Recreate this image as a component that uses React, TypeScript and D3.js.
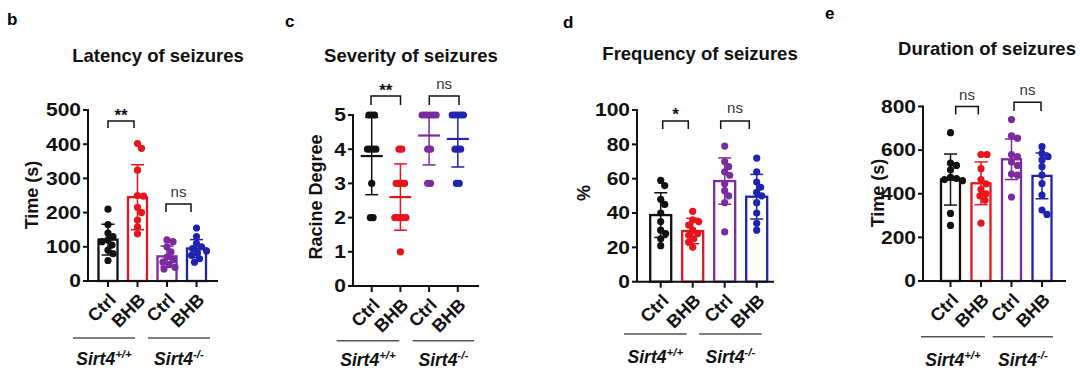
import React from "react";
import * as d3 from "d3";

// ---------- shared categories ----------
const conditions = ["Ctrl", "BHB", "Ctrl", "BHB"];
const groupKeys = ["WT-Ctrl", "WT-BHB", "KO-Ctrl", "KO-BHB"];
const genotypeBase = ["Sirt4", "Sirt4"];
const genotypeSup = ["+/+", "-/-"];
const groupColors = ["#111111", "#e8141c", "#7b2ba0", "#1f24b0"];

// ---------- panel titles / labels ----------
const panelLetters = ["b", "c", "d", "e"];
const panelTitles = ["Latency of seizures", "Severity of seizures", "Frequency of seizures", "Duration of seizures"];
const yLabels = ["Time (s)", "Racine Degree", "%", "Time (s)"];

// ---------- b: latency ----------
const latencyPoints = [
  [210, 165, 140, 130, 120, 115, 105, 90, 80, 60],
  [402, 388, 324, 250, 248, 215, 200, 178, 158, 138],
  [120, 115, 100, 85, 70, 62, 55, 48, 40, 35],
  [155, 130, 110, 100, 95, 88, 82, 75, 65, 55],
];
const latencyMean = [121, 245, 72, 95];
const latencySD = [45, 95, 30, 26];
const latencyTicks = [0, 100, 200, 300, 400, 500];
const latencySig = ["**", "ns"];

// ---------- c: severity ----------
const severityPoints = [
  [5, 5, 5, 4, 4, 4, 4, 3, 2, 2],
  [4, 4, 3, 3, 3, 3, 2, 2, 2, 2, 2, 1],
  [5, 5, 5, 5, 5, 5, 4, 4, 3, 3],
  [5, 5, 5, 5, 5, 4, 4, 4, 3, 3],
];
const severityMean = [3.8, 2.6, 4.4, 4.3];
const severitySD = [1.13, 0.97, 0.86, 0.82];
const severityTicks = [0, 1, 2, 3, 4, 5];
const severitySig = ["**", "ns"];

// ---------- d: frequency ----------
const frequencyPoints = [
  [59, 56, 48, 45, 40, 35, 30, 28, 25, 21],
  [41, 36, 35, 33, 30, 28, 27, 25, 23, 20],
  [79, 70, 67, 64, 62, 57, 53, 50, 46, 29],
  [72, 64, 58, 55, 52, 50, 46, 40, 34, 30],
];
const frequencyMean = [38.8, 29.5, 58.6, 49.5];
const frequencySD = [13, 7.4, 13.5, 13];
const frequencyTicks = [0, 20, 40, 60, 80, 100];
const frequencySig = ["*", "ns"];

// ---------- e: duration ----------
const durationPoints = [
  [680, 540, 530, 510, 475, 470, 465, 460, 310, 255],
  [580, 580, 515, 465, 445, 420, 400, 390, 370, 265],
  [740, 665, 655, 580, 570, 545, 530, 490, 485, 385],
  [616, 585, 570, 555, 524, 486, 447, 394, 325, 305],
];
const durationMean = [465, 448, 558, 482];
const durationSD = [117, 98, 93, 105];
const durationTicks = [0, 200, 400, 600, 800];
const durationSig = ["ns", "ns"];

// ---------- layout (positions only) ----------
type SigPos = { x1: number; x2: number; top: number; leg: number; textY: number };
type Layout = {
  letterX: number; letterY: number;
  titleX: number; titleY: number;
  yLabelX: number; yLabelY: number;
  axisX: number; axisEnd: number; y0: number; yTop: number;
  c0: number; step: number; barW: number;
  groupLines: [number, number][]; groupLineY: number; groupLabelY: number;
  sig: SigPos[];
};

const layouts: Layout[] = [
  {
    letterX: 7, letterY: 25, titleX: 158, titleY: 62, yLabelX: 38, yLabelY: 195,
    axisX: 88, axisEnd: 217, y0: 281, yTop: 110, c0: 108, step: 29.5, barW: 19,
    groupLines: [[73, 135], [148, 210]], groupLineY: 338, groupLabelY: 365,
    sig: [
      { x1: 108, x2: 134, top: 121, leg: 128, textY: 121 },
      { x1: 166, x2: 191, top: 204, leg: 212, textY: 197 },
    ],
  },
  {
    letterX: 285, letterY: 27, titleX: 411, titleY: 62, yLabelX: 322, yLabelY: 197,
    axisX: 353, axisEnd: 478, y0: 286, yTop: 115, c0: 371.7, step: 28.7, barW: 0,
    groupLines: [[336.7, 399.3], [412.7, 474]], groupLineY: 340.7, groupLabelY: 366,
    sig: [
      { x1: 371, x2: 400.5, top: 96, leg: 105, textY: 96 },
      { x1: 429.3, x2: 459, top: 96, leg: 105, textY: 89 },
    ],
  },
  {
    letterX: 563, letterY: 28, titleX: 700, titleY: 60, yLabelX: 589.5, yLabelY: 193,
    axisX: 637, axisEnd: 773, y0: 281.7, yTop: 110, c0: 660.7, step: 32, barW: 21,
    groupLines: [[624, 686.7], [699, 761.7]], groupLineY: 334, groupLabelY: 363,
    sig: [
      { x1: 662.7, x2: 688.3, top: 121, leg: 129, textY: 120 },
      { x1: 720.7, x2: 749.3, top: 121, leg: 129, textY: 113 },
    ],
  },
  {
    letterX: 825, letterY: 19, titleX: 987, titleY: 55, yLabelX: 884, yLabelY: 193,
    axisX: 923, axisEnd: 1065, y0: 281, yTop: 106.5, c0: 950.5, step: 30.5, barW: 19,
    groupLines: [[921, 985], [992.7, 1053]], groupLineY: 336.7, groupLabelY: 366,
    sig: [
      { x1: 955.7, x2: 978.3, top: 106.5, leg: 114.5, textY: 100 },
      { x1: 1014, x2: 1041, top: 102.3, leg: 111, textY: 95 },
    ],
  },
];

const FONT = "'Liberation Sans', Arial, Helvetica, sans-serif";

// beeswarm offsets for continuous values
function swarmOffsets(values: number[], yScale: (v: number) => number, minD: number, step: number): number[] {
  const order = values.map((v, i) => i).sort((a, b) => values[b] - values[a]);
  const placed: { x: number; y: number }[] = [];
  const out = new Array(values.length).fill(0);
  for (const i of order) {
    const yy = yScale(values[i]);
    for (let k = 0; k < 60; k++) {
      const off = k === 0 ? 0 : (k % 2 === 1 ? 1 : -1) * Math.ceil(k / 2) * step;
      const ok = placed.every((p) => (p.x - off) ** 2 + (p.y - yy) ** 2 >= minD * minD);
      if (ok) {
        placed.push({ x: off, y: yy });
        out[i] = off;
        break;
      }
    }
  }
  return out;
}

// symmetric spread for tied (discrete) values
function tieOffsets(values: number[], step: number): number[] {
  const counts = new Map<number, number>();
  values.forEach((v) => counts.set(v, (counts.get(v) || 0) + 1));
  const seen = new Map<number, number>();
  return values.map((v) => {
    const n = counts.get(v)!;
    const k = seen.get(v) || 0;
    seen.set(v, k + 1);
    return (k - (n - 1) / 2) * step;
  });
}

type PanelProps = {
  idx: number;
  points: number[][];
  means: number[];
  sds: number[];
  ticks: number[];
  sig: string[];
  kind: "bar" | "scatter";
};

function Panel({ idx, points, means, sds, ticks, sig, kind }: PanelProps) {
  const L = layouts[idx];
  const maxV = ticks[ticks.length - 1];
  const y = d3.scaleLinear().domain([0, maxV]).range([L.y0, L.yTop]);
  const x = d3.scalePoint<string>().domain(groupKeys).range([L.c0, L.c0 + 3 * L.step]);
  const r = 3.6;

  return (
    <g>
      {/* panel letter & title */}
      <text x={L.letterX} y={L.letterY} fontSize={17} fontWeight="bold" fontFamily={FONT}>{panelLetters[idx]}</text>
      <text x={L.titleX} y={L.titleY} fontSize={18.5} fontWeight="bold" textAnchor="middle" fontFamily={FONT} fill="#111">{panelTitles[idx]}</text>
      {/* y label */}
      <text transform={`translate(${L.yLabelX},${L.yLabelY}) rotate(-90)`} fontSize={18} fontWeight="bold" textAnchor="middle" fontFamily={FONT} fill="#111">{yLabels[idx]}</text>

      {/* groups */}
      {groupKeys.map((key, gi) => {
        const cx = x(key)!;
        const col = groupColors[gi];
        const vals = points[gi];
        const offs = kind === "bar" ? swarmOffsets(vals, y, 6, 1) : tieOffsets(vals, 2.8);
        const m = means[gi];
        const s = sds[gi];
        const capW = 13;
        const hiClipped = m + s > maxV;
        const yHi = y(Math.min(m + s, maxV));
        const yLo = y(Math.max(m - s, 0));
        return (
          <g key={key}>
            {kind === "bar" && (
              <rect x={cx - L.barW / 2} y={y(m)} width={L.barW} height={L.y0 - y(m)} fill="white" stroke={col} strokeWidth={2.3} />
            )}
            <line x1={cx} x2={cx} y1={yLo} y2={yHi} stroke={col} strokeWidth={1.5} />
            {!hiClipped && <line x1={cx - capW / 2} x2={cx + capW / 2} y1={yHi} y2={yHi} stroke={col} strokeWidth={1.5} />}
            <line x1={cx - capW / 2} x2={cx + capW / 2} y1={yLo} y2={yLo} stroke={col} strokeWidth={1.5} />
            {vals.map((v, i) => (
              <circle key={i} cx={cx + offs[i]} cy={y(v)} r={r} fill={col} />
            ))}
            {kind === "scatter" && (
              <line x1={cx - 11} x2={cx + 11} y1={y(m)} y2={y(m)} stroke={col} strokeWidth={2.2} />
            )}
          </g>
        );
      })}

      {/* axes */}
      <path d={`M${L.axisX},${L.yTop} L${L.axisX},${L.y0} L${L.axisEnd},${L.y0}`} fill="none" stroke="#111" strokeWidth={2} strokeLinecap="square" />
      {ticks.map((t) => (
        <g key={t}>
          <line x1={L.axisX - 5} x2={L.axisX} y1={y(t)} y2={y(t)} stroke="#111" strokeWidth={2} />
          <text transform={`translate(${L.axisX - 7},${y(t) + 6.3}) scale(1.2,1)`} textAnchor="end" fontSize={17.5} fontWeight="bold" fontFamily={FONT} fill="#111">{t}</text>
        </g>
      ))}
      {groupKeys.map((key, gi) => {
        const cx = x(key)!;
        return (
          <g key={key}>
            <line x1={cx} x2={cx} y1={L.y0} y2={L.y0 + 6} stroke="#111" strokeWidth={2} />
            <text transform={`translate(${cx + 9},${L.y0 + 20}) rotate(-45)`} textAnchor="end" fontSize={18} fontWeight="bold" fontFamily={FONT} fill="#111">{conditions[gi]}</text>
          </g>
        );
      })}

      {/* genotype group lines */}
      {L.groupLines.map(([a, b], k) => (
        <g key={k}>
          <line x1={a} x2={b} y1={L.groupLineY} y2={L.groupLineY} stroke="#555" strokeWidth={1.5} />
          <text x={(a + b) / 2} y={L.groupLabelY} textAnchor="middle" fontSize={17.5} fontWeight="bold" fontStyle="italic" fontFamily={FONT} fill="#111">
            {genotypeBase[k]}
            <tspan dy={-7} fontSize={11.5}>{genotypeSup[k]}</tspan>
          </text>
        </g>
      ))}

      {/* significance brackets */}
      {L.sig.map((sp, k) => (
        <g key={k}>
          <path d={`M${sp.x1},${sp.leg} L${sp.x1},${sp.top} L${sp.x2},${sp.top} L${sp.x2},${sp.leg}`} fill="none" stroke="#111" strokeWidth={1.5} />
          <text x={(sp.x1 + sp.x2) / 2} y={sp.textY} textAnchor="middle" fontFamily={FONT}
            fontSize={sig[k] === "ns" ? 15 : 17} fontWeight={sig[k] === "ns" ? "normal" : "bold"} fill={sig[k] === "ns" ? "#333" : "#111"}>
            {sig[k]}
          </text>
        </g>
      ))}
    </g>
  );
}

export default function App() {
  return (
    <svg width={1080} height={377} viewBox="0 0 1080 377" style={{ position: "absolute", left: 0, top: 0, background: "white" }}>
      <rect width={1080} height={377} fill="white" />
      <Panel idx={0} points={latencyPoints} means={latencyMean} sds={latencySD} ticks={latencyTicks} sig={latencySig} kind="bar" />
      <Panel idx={1} points={severityPoints} means={severityMean} sds={severitySD} ticks={severityTicks} sig={severitySig} kind="scatter" />
      <Panel idx={2} points={frequencyPoints} means={frequencyMean} sds={frequencySD} ticks={frequencyTicks} sig={frequencySig} kind="bar" />
      <Panel idx={3} points={durationPoints} means={durationMean} sds={durationSD} ticks={durationTicks} sig={durationSig} kind="bar" />
    </svg>
  );
}
